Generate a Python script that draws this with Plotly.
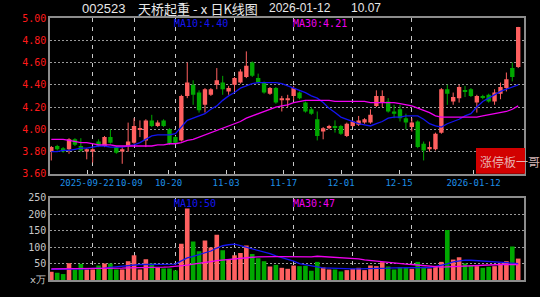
import plotly.graph_objects as go

dates = [
    "2025-09-11", "2025-09-12", "2025-09-15", "2025-09-16", "2025-09-17", "2025-09-18", "2025-09-19",
    "2025-09-22", "2025-09-23", "2025-09-24", "2025-09-25", "2025-09-26", "2025-09-29", "2025-09-30",
    "2025-10-09", "2025-10-10", "2025-10-13", "2025-10-14", "2025-10-15", "2025-10-16", "2025-10-17",
    "2025-10-20", "2025-10-21", "2025-10-22", "2025-10-23", "2025-10-24",
    "2025-10-27", "2025-10-28", "2025-10-29", "2025-10-30", "2025-10-31",
    "2025-11-03", "2025-11-04", "2025-11-05", "2025-11-06", "2025-11-07",
    "2025-11-10", "2025-11-11", "2025-11-12", "2025-11-13", "2025-11-14",
    "2025-11-17", "2025-11-18", "2025-11-19", "2025-11-20", "2025-11-21",
    "2025-11-24", "2025-11-25", "2025-11-26", "2025-11-27", "2025-11-28",
    "2025-12-01", "2025-12-02", "2025-12-03", "2025-12-04", "2025-12-05",
    "2025-12-08", "2025-12-09", "2025-12-10", "2025-12-11", "2025-12-12",
    "2025-12-15", "2025-12-16", "2025-12-17", "2025-12-18", "2025-12-19",
    "2025-12-22", "2025-12-23", "2025-12-24", "2025-12-25", "2025-12-26",
    "2025-12-29", "2025-12-30", "2025-12-31",
    "2026-01-05", "2026-01-06", "2026-01-07", "2026-01-08", "2026-01-09", "2026-01-12",
]

opens = [3.80, 3.85, 3.83, 3.82, 3.91, 3.85, 3.80, 3.80, 3.89, 3.85,
         3.93, 3.84, 3.80, 3.85, 3.88, 4.00, 3.90, 4.08, 4.03, 4.08,
         4.00, 3.93, 3.90, 4.30, 4.40, 4.33, 4.22, 4.31, 4.40, 4.42,
         4.34, 4.40, 4.42, 4.47, 4.60, 4.46, 4.42, 4.32, 4.37, 4.26,
         4.26, 4.30, 4.33, 4.24, 4.18, 4.09, 3.98, 4.01, 4.03, 4.03,
         3.94, 4.03, 4.04, 4.06, 4.06, 4.21, 4.24, 4.25, 4.16, 4.18,
         4.10, 4.02, 4.07, 3.87, 3.82, 3.82, 3.97, 4.36, 4.25, 4.28,
         4.35, 4.36, 4.24, 4.30, 4.31, 4.25, 4.32, 4.37, 4.55, 4.56]
highs = [3.85, 3.86, 3.84, 3.92, 3.92, 3.92, 3.83, 3.83, 3.91, 3.94,
         4.00, 3.85, 3.84, 4.06, 4.10, 4.08, 4.09, 4.13, 4.08, 4.09,
         4.01, 3.94, 4.31, 4.60, 4.44, 4.35, 4.37, 4.37, 4.55, 4.48,
         4.39, 4.47, 4.54, 4.70, 4.61, 4.50, 4.43, 4.38, 4.38, 4.30,
         4.31, 4.39, 4.34, 4.25, 4.20, 4.16, 4.02, 4.04, 4.08, 4.04,
         4.06, 4.08, 4.12, 4.10, 4.18, 4.35, 4.35, 4.28, 4.22, 4.22,
         4.14, 4.10, 4.08, 3.89, 3.89, 3.97, 4.37, 4.40, 4.33, 4.40,
         4.39, 4.37, 4.31, 4.31, 4.32, 4.36, 4.42, 4.51, 4.60, 4.92]
lows = [3.72, 3.81, 3.79, 3.78, 3.85, 3.80, 3.73, 3.70, 3.84, 3.84,
        3.87, 3.78, 3.69, 3.80, 3.87, 3.93, 3.84, 4.02, 4.02, 4.02,
        3.86, 3.87, 3.89, 4.28, 4.22, 4.15, 4.15, 4.30, 4.36, 4.31,
        4.31, 4.34, 4.41, 4.46, 4.47, 4.41, 4.32, 4.31, 4.23, 4.16,
        4.20, 4.26, 4.27, 4.15, 4.13, 3.90, 3.91, 4.00, 3.97, 3.95,
        3.93, 4.02, 4.03, 4.05, 4.05, 4.20, 4.20, 4.15, 4.10, 4.07,
        4.00, 3.98, 3.83, 3.72, 3.80, 3.81, 3.96, 4.22, 4.22, 4.24,
        4.29, 4.29, 4.15, 4.27, 4.24, 4.22, 4.27, 4.34, 4.43, 4.55]
closes = [3.84, 3.82, 3.80, 3.91, 3.86, 3.81, 3.82, 3.82, 3.85, 3.93,
          3.88, 3.79, 3.82, 3.89, 4.03, 4.01, 4.08, 4.03, 4.06, 4.03,
          3.87, 3.88, 4.30, 4.42, 4.31, 4.17, 4.36, 4.36, 4.44, 4.36,
          4.37, 4.46, 4.52, 4.57, 4.48, 4.42, 4.33, 4.37, 4.24, 4.28,
          4.28, 4.37, 4.28, 4.16, 4.14, 3.94, 4.01, 4.03, 4.02, 3.96,
          4.05, 4.07, 4.08, 4.09, 4.13, 4.30, 4.30, 4.16, 4.14, 4.10,
          4.06, 4.06, 3.84, 3.81, 3.84, 3.96, 4.36, 4.32, 4.29, 4.38,
          4.34, 4.30, 4.30, 4.29, 4.25, 4.33, 4.38, 4.45, 4.47, 4.92]

ma10 = [3.80, 3.80, 3.81, 3.81, 3.82, 3.83, 3.83, 3.84, 3.85, 3.85,
        3.84, 3.84, 3.84, 3.85, 3.86, 3.88, 3.91, 3.94, 3.95, 3.95,
        3.95, 3.96, 4.02, 4.08, 4.10, 4.12, 4.14, 4.18, 4.21, 4.26,
        4.30, 4.33, 4.37, 4.39, 4.41, 4.42, 4.42, 4.42, 4.42, 4.41,
        4.39, 4.37, 4.35, 4.33, 4.30, 4.28, 4.24, 4.19, 4.15, 4.11,
        4.09, 4.07, 4.05, 4.04, 4.03, 4.05, 4.07, 4.10, 4.11, 4.11,
        4.12, 4.12, 4.12, 4.09, 4.05, 4.03, 4.02, 4.05, 4.07, 4.09,
        4.12, 4.14, 4.20, 4.25, 4.28, 4.31, 4.34, 4.36, 4.38, 4.40]
ma30 = [3.91, 3.91, 3.91, 3.90, 3.89, 3.88, 3.88, 3.87, 3.86, 3.86,
        3.86, 3.85, 3.85, 3.85, 3.85, 3.85, 3.85, 3.85, 3.86, 3.86,
        3.87, 3.87, 3.88, 3.90, 3.91, 3.93, 3.95, 3.97, 3.99, 4.01,
        4.03, 4.05, 4.07, 4.10, 4.12, 4.14, 4.16, 4.18, 4.20, 4.21,
        4.22, 4.24, 4.25, 4.26, 4.26, 4.26, 4.26, 4.26, 4.25, 4.25,
        4.25, 4.25, 4.25, 4.25, 4.24, 4.24, 4.24, 4.24, 4.24, 4.23,
        4.22, 4.21, 4.19, 4.17, 4.15, 4.12, 4.11, 4.11, 4.11, 4.11,
        4.11, 4.11, 4.11, 4.12, 4.13, 4.14, 4.15, 4.16, 4.18, 4.21]

volumes = [25, 22, 18, 51, 32, 49, 32, 32, 44, 50,
           50, 32, 32, 57, 75, 32, 63, 50, 37, 35,
           35, 29, 110, 217, 117, 87, 120, 99, 137, 90,
           62, 75, 82, 105, 79, 66, 57, 41, 46, 37,
           34, 44, 42, 43, 28, 55, 38, 32, 32, 26,
           30, 34, 37, 30, 44, 42, 54, 41, 32, 39,
           38, 34, 55, 40, 35, 40, 55, 152, 62, 69,
           50, 44, 42, 37, 40, 42, 50, 57, 102, 65]
vol_ma10 = [32, 32, 33, 33, 33, 34, 34, 35, 35, 36,
            38, 40, 41, 43, 45, 47, 47, 47, 47, 47,
            47, 48, 58, 67, 72, 77, 83, 88, 97, 104,
            107, 109, 104, 99, 95, 90, 86, 80, 73, 68,
            63, 57, 50, 46, 43, 40, 37, 36, 35, 35,
            34, 34, 34, 34, 34, 34, 35, 36, 37, 37,
            37, 37, 37, 37, 38, 41, 44, 49, 55, 58,
            60, 60, 59, 58, 57, 56, 55, 54, 52, 50]
vol_ma30 = [34, 34, 34, 34, 34, 34, 34, 34, 35, 35,
            35, 36, 36, 37, 37, 38, 38, 39, 39, 39,
            40, 41, 42, 45, 48, 50, 53, 56, 59, 61,
            63, 65, 67, 68, 69, 70, 71, 71, 71, 71,
            71, 71, 70, 69, 70, 72, 71, 70, 69, 68,
            67, 65, 64, 61, 59, 57, 55, 53, 50, 49,
            48, 47, 45, 43, 41, 39, 39, 40, 41, 42,
            43, 44, 45, 46, 46, 47, 47, 47, 47, 47]

tick_labels = ["2025-09-22", "10-09", "10-20", "11-03", "11-17", "12-01", "12-15", "2026-01-12"]
tick_label_pos = [6.04, 13.15, 19.83, 29.56, 39.29, 49.02, 58.83, 71.44]
grid_dates = ["2025-09-22", "2025-10-09", "2025-10-20", "2025-11-03",
              "2025-11-17", "2025-12-01", "2025-12-15"]
price_ticks = [3.6, 3.8, 4.0, 4.2, 4.4, 4.6, 4.8, 5.0]
vol_ticks = [0, 50, 100, 150, 200, 250]
vol_tick_text = ["ⅹ万", "50", "100", "150", "200", "250"]

stock_code = "002523"
stock_name = "天桥起重 -ⅹ日K线图"
last_date = "2026-01-12"
pct_change = "10.07"
watermark = "涨停板一哥"

UP = "#ff6060"
DOWN = "#00a800"
BLUE = "#1414f0"
MAG = "#f000f0"
MONO = "DejaVu Sans Mono"

x = list(range(len(dates)))
grid_vals = [dates.index(d) for d in grid_dates]
is_up = [c >= o for o, c in zip(opens, closes)]

fig = go.Figure()

# wicks
for flag, col in ((True, UP), (False, DOWN)):
    wx, wy = [], []
    for i in x:
        if is_up[i] == flag:
            wx += [i, i, None]
            wy += [lows[i], highs[i], None]
    fig.add_trace(go.Scatter(x=wx, y=wy, mode="lines", line=dict(color=col, width=1),
                             xaxis="x", yaxis="y", hoverinfo="skip"))

# bodies
for flag, col in ((True, UP), (False, DOWN)):
    bx, bh, bb = [], [], []
    for i in x:
        if is_up[i] == flag:
            bx.append(i)
            bb.append(min(opens[i], closes[i]))
            bh.append(max(abs(closes[i] - opens[i]), 0.008))
    fig.add_trace(go.Bar(x=bx, y=bh, base=bb, width=0.74, marker=dict(color=col, line=dict(width=0)),
                         xaxis="x", yaxis="y"))

fig.add_trace(go.Scatter(x=x, y=ma10, mode="lines", line=dict(color=BLUE, width=1.3),
                         xaxis="x", yaxis="y"))
fig.add_trace(go.Scatter(x=x, y=ma30, mode="lines", line=dict(color=MAG, width=1.3),
                         xaxis="x", yaxis="y"))

# volume
fig.add_trace(go.Bar(x=x, y=volumes, width=0.78,
                     marker=dict(color=[UP if u else DOWN for u in is_up], line=dict(width=0)),
                     xaxis="x2", yaxis="y2"))
fig.add_trace(go.Scatter(x=x, y=vol_ma10, mode="lines", line=dict(color=BLUE, width=1.3),
                         xaxis="x2", yaxis="y2"))
fig.add_trace(go.Scatter(x=x, y=vol_ma30, mode="lines", line=dict(color=MAG, width=1.3),
                         xaxis="x2", yaxis="y2"))

FRAME = "#8c8c8c"
xrange_ = [-0.22, 79.98]
minor_grid = dict(tickmode="array", tickvals=grid_vals, showgrid=True,
                  gridcolor="#c8c8c8", griddash="4px,5px", gridwidth=1, ticks="")

fig.update_layout(
    width=540, height=297,
    margin=dict(l=50, r=16, t=18, b=15),
    paper_bgcolor="black", plot_bgcolor="black",
    showlegend=False, barmode="overlay",
    xaxis=dict(domain=[0, 1], anchor="y", range=xrange_,
               tickmode="array", tickvals=tick_label_pos, ticktext=tick_labels, tickangle=0,
               ticks="inside", ticklen=4, tickcolor="#cccccc",
               tickfont=dict(family=MONO, size=9, color="#1e8fe6"),
               showgrid=False, minor=minor_grid, zeroline=False,
               showline=True, mirror=True, linecolor=FRAME, linewidth=1.5),
    xaxis2=dict(domain=[0, 1], anchor="y2", range=xrange_, matches="x",
                showticklabels=False, ticks="", showgrid=False, minor=minor_grid,
                zeroline=False, showline=True, mirror=True, linecolor=FRAME, linewidth=1.5),
    yaxis=dict(domain=[0.4053, 1], anchor="x", range=[3.6, 5.0],
               tickmode="array", tickvals=price_ticks, ticktext=[f"{v:.2f}" for v in price_ticks],
               tickfont=dict(family=MONO, size=10, color="#ff1a1a"), ticks="",
               showgrid=True, gridcolor="#9a9a9a", griddash="2px,2px", gridwidth=1,
               zeroline=False, showline=True, mirror=True, linecolor=FRAME, linewidth=1.5),
    yaxis2=dict(domain=[0, 0.3144], anchor="x2", range=[0, 250],
                tickmode="array", tickvals=vol_ticks, ticktext=vol_tick_text,
                tickfont=dict(family=MONO, size=10, color="#c8c8c8"), ticks="",
                showgrid=True, gridcolor="#9a9a9a", griddash="2px,2px", gridwidth=1,
                zeroline=False, showline=True, mirror=True, linecolor=FRAME, linewidth=1.5),
)

def px2paper_x(px):
    return (px - 50) / 474.0

def px2paper_y(py):
    return (282 - py) / 264.0

anns = [
    dict(text=stock_code, x=px2paper_x(80), y=px2paper_y(8), xanchor="left",
         font=dict(family="Liberation Sans", size=13, color="#e8e8e8")),
    dict(text=stock_name, x=px2paper_x(136), y=px2paper_y(8), xanchor="left",
         font=dict(family="Noto Sans CJK SC", size=13, color="#e8e8e8")),
    dict(text=last_date, x=px2paper_x(267), y=px2paper_y(8), xanchor="left",
         font=dict(family="Liberation Sans", size=12, color="#e8e8e8")),
    dict(text=pct_change, x=px2paper_x(349), y=px2paper_y(8), xanchor="left",
         font=dict(family="Liberation Sans", size=12, color="#e8e8e8")),
    dict(text=f"MA10:{ma10[-1]:.2f}", x=px2paper_x(172), y=px2paper_y(24), xanchor="left",
         font=dict(family=MONO, size=10, color=BLUE)),
    dict(text=f"MA30:{ma30[-1]:.2f}", x=px2paper_x(291), y=px2paper_y(24), xanchor="left",
         font=dict(family=MONO, size=10, color=MAG)),
    dict(text=f"MA10:{vol_ma10[-1]:.0f}", x=px2paper_x(172), y=px2paper_y(205), xanchor="left",
         font=dict(family=MONO, size=10, color=BLUE)),
    dict(text=f"MA30:{vol_ma30[-1]:.0f}", x=px2paper_x(291), y=px2paper_y(205), xanchor="left",
         font=dict(family=MONO, size=10, color=MAG)),
    dict(text=watermark, x=px2paper_x(478), y=px2paper_y(163), xanchor="left",
         font=dict(family="Noto Sans CJK SC", size=12, color="rgba(235,200,200,0.9)")),
]
for a in anns:
    a.update(xref="paper", yref="paper", yanchor="middle", showarrow=False)
fig.update_layout(annotations=anns)

fig.add_shape(type="rect", xref="paper", yref="paper",
              x0=px2paper_x(476), x1=px2paper_x(525), y0=px2paper_y(175), y1=px2paper_y(149),
              fillcolor="#d20000", line=dict(width=0), layer="above")

fig.write_html("out.html")
